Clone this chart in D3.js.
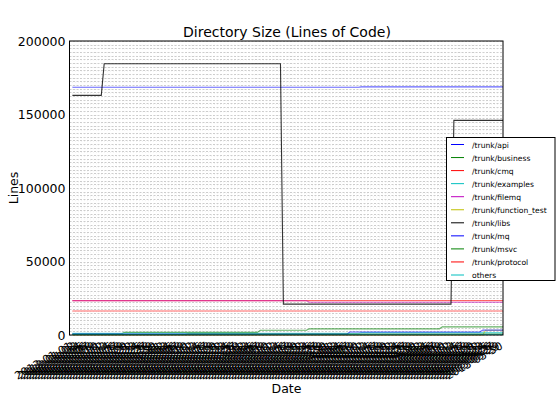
<!DOCTYPE html>
<html><head><meta charset="utf-8">
<script src="https://cdn.jsdelivr.net/npm/d3@7"></script>
<style>body{margin:0;background:#fff}svg{font-family:"DejaVu Sans",sans-serif}</style>
</head><body><svg id="c" width="560" height="420"></svg>
<script>
// ---- data ----
const dates = d3.timeDay.range(new Date(2013,0,1), new Date(2013,4,31)); // 150 commit dates (labels unreadable)
const seriesNames = ["/trunk/api","/trunk/business","/trunk/cmq","/trunk/examples","/trunk/filemq","/trunk/function_test","/trunk/libs","/trunk/mq","/trunk/msvc","/trunk/protocol","others"];
const seriesColors = ["#0000ff","#008000","#ff0000","#00bfbf","#bf00bf","#bfbf00","#000000","#0000ff","#008000","#ff0000","#00bfbf"];
// step runs: [start date index, lines of code]
const apiRuns = [[0,168500],[100,168800]];
const businessRuns = [[0,800],[18,1800],[65,3200],[82,4200],[128,5500]];
const cmqRuns = [[0,23400]];
const examplesRuns = [[0,1200],[100,1600]];
const filemqRuns = [[0,23300],[82,22300]];
const functionTestRuns = [[0,0],[143,3200]];
const libsRuns = [[0,163000],[11,184500],[73,21000],[132,146000]];
const mqRuns = [[0,600],[96,2000],[142,3300]];
const msvcRuns = [[0,300],[40,600]];
const protocolRuns = [[0,16300]];
const othersRuns = [[0,400]];
const yTicks = [0,50000,100000,150000,200000];

const allRuns = [apiRuns,businessRuns,cmqRuns,examplesRuns,filemqRuns,functionTestRuns,libsRuns,mqRuns,msvcRuns,protocolRuns,othersRuns];
function expand(runs){
  return dates.map((d,i)=>{let v=runs[0][1];for(const r of runs){if(i>=r[0])v=r[1];}return v;});
}
const series = seriesNames.map((n,k)=>({name:n,color:seriesColors[k],values:expand(allRuns[k])}));

// ---- layout ----
const svg = d3.select("#c");
const L=69.5,R=503,T=41,B=335;
const x = d3.scaleLinear().domain([-1,dates.length-1]).range([L,R]);
const y = d3.scaleLinear().domain([0,200000]).range([B,T]);
const fmt = d3.timeFormat("%Y-%m-%d");

// grid
const g = svg.append("g");
g.selectAll("line.h").data(d3.range(0,200001,2500)).join("line")
  .attr("x1",L).attr("x2",R).attr("y1",d=>Math.round(y(d))+0.5).attr("y2",d=>Math.round(y(d))+0.5)
  .attr("stroke","#cccccc").attr("stroke-width",1).attr("stroke-dasharray","2,1.5");
g.selectAll("line.v").data(dates).join("line")
  .attr("x1",(d,i)=>Math.round(x(i))+0.5).attr("x2",(d,i)=>Math.round(x(i))+0.5).attr("y1",T).attr("y2",B)
  .attr("stroke","#dddddd").attr("stroke-width",1).attr("stroke-dasharray","1,2.7").attr("opacity",0.35);

// lines
const line = d3.line().x((d,i)=>x(i)).y(d=>y(d));
svg.append("g").selectAll("path").data(series).join("path")
  .attr("d",d=>line(d.values)).attr("fill","none")
  .attr("stroke",d=>d.color).attr("stroke-width",1.1).attr("stroke-opacity",d=>d.color==="#000000"?0.8:0.6);

// frame
svg.append("rect").attr("x",L).attr("y",T).attr("width",R-L).attr("height",B-T)
  .attr("fill","none").attr("stroke","#000").attr("stroke-width",1);

// y axis
const yAxis = d3.axisLeft(y).tickValues(yTicks).tickSize(0).tickPadding(4).tickFormat(d3.format("d"));
const ya = svg.append("g").attr("transform",`translate(${L},0)`).call(yAxis);
ya.select(".domain").remove();
ya.selectAll("text").attr("font-size",12.5).attr("font-family","DejaVu Sans").attr("fill","#000");

// x axis (rotated date labels)
const xAxis = d3.axisBottom(x).tickValues(d3.range(dates.length)).tickSize(0).tickPadding(0)
  .tickFormat(i=>fmt(dates[i]));
const xa = svg.append("g").attr("transform",`translate(0,${B})`).call(xAxis);
xa.select(".domain").remove();
xa.selectAll("text").attr("font-size",11).attr("font-family","DejaVu Sans").attr("fill","#000")
  .attr("text-anchor","end").attr("dy",0).attr("y",0)
  .attr("transform","translate(0,13) rotate(-30)");

// titles
svg.append("text").attr("x",287).attr("y",37).attr("text-anchor","middle").attr("font-size",14).text("Directory Size (Lines of Code)");
svg.append("text").attr("x",286.5).attr("y",393).attr("text-anchor","middle").attr("font-size",12.5).text("Date");
svg.append("text").attr("transform","translate(18,188) rotate(-90)").attr("text-anchor","middle").attr("font-size",12.5).text("Lines");

// legend
const lg = svg.append("g");
lg.append("rect").attr("x",446.5).attr("y",137.5).attr("width",108.5).attr("height",143)
  .attr("fill","#fff").attr("stroke","#000").attr("stroke-width",1);
const items = lg.selectAll("g").data(series).join("g")
  .attr("transform",(d,i)=>`translate(0,${144.5+i*13.05})`);
items.append("line").attr("x1",451).attr("x2",464).attr("y1",0).attr("y2",0)
  .attr("stroke",d=>d.color).attr("stroke-width",1);
items.append("text").attr("x",472).attr("y",3).attr("font-size",7.6).text(d=>d.name);
</script></body></html>
